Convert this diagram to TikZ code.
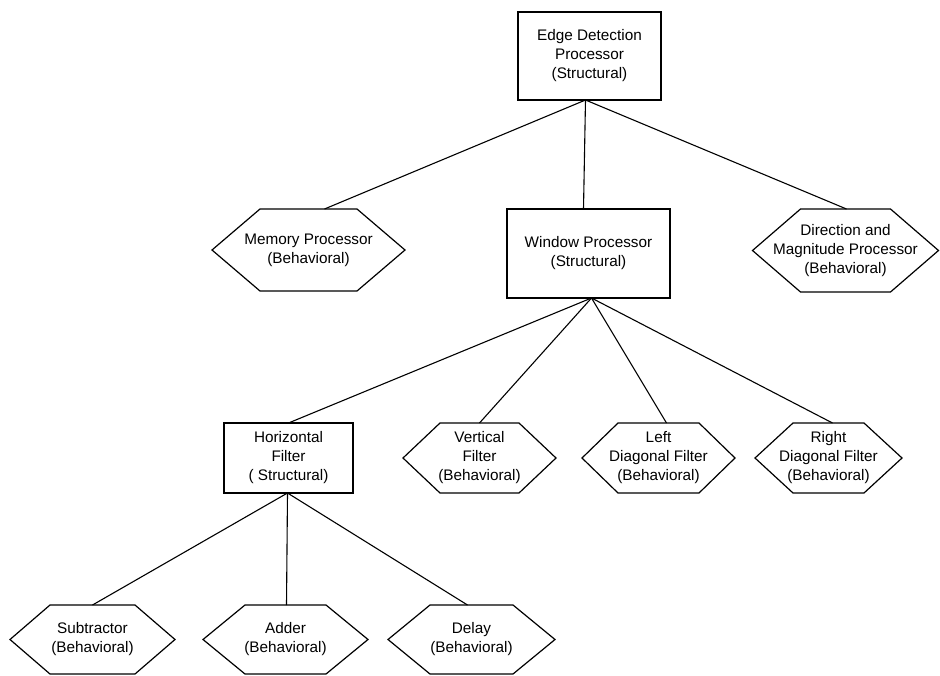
\documentclass[tikz,border=0pt]{standalone}
\usepackage{fontspec}
\setmainfont{Liberation Sans}
\newcommand{\hexoutline}[2]{%
  \draw[outline] (#1.west) -- ([xshift=#2]#1.north west) -- ([xshift=-#2]#1.north east)
    -- (#1.east) -- ([xshift=-#2]#1.south east) -- ([xshift=#2]#1.south west) -- cycle;}
\begin{document}
\begin{tikzpicture}[x=1pt,y=-1pt,
  outline/.style={line width=1.2pt, line join=miter},
  lbl/.style={align=center, inner sep=0pt, outer sep=0pt,
    font=\fontsize{15.3}{19}\selectfont},
  structbox/.style={lbl, draw, line width=1.2pt},
  behavhex/.style={lbl, draw=none},
  link/.style={line width=1.1pt}]
\useasboundingbox (0,0) rectangle (940,675);

% structural blocks
\node[structbox, minimum width=143pt, minimum height=88pt] (ed) at (589.5,56)
  {Edge Detection\\Processor\\(Structural)};
\node[structbox, minimum width=163pt, minimum height=89pt] (win) at (588.5,253.5)
  {Window Processor\\(Structural)};
\node[structbox, minimum width=129pt, minimum height=70pt] (hf) at (288.5,458)
  {Horizontal\\Filter\\( Structural)};

% behavioral blocks
\node[behavhex, minimum width=193pt, minimum height=82pt] (mem) at (308.5,250)
  {Memory Processor\\(Behavioral)};
\node[behavhex, minimum width=186pt, minimum height=83pt] (dir) at (845.5,250.5)
  {Direction and\\Magnitude Processor\\(Behavioral)};
\node[behavhex, minimum width=153pt, minimum height=70pt] (vf) at (479.5,458)
  {Vertical\\Filter\\(Behavioral)};
\node[behavhex, minimum width=153pt, minimum height=70pt] (ldf) at (658.5,458)
  {Left\\Diagonal Filter\\(Behavioral)};
\node[behavhex, minimum width=147pt, minimum height=70pt] (rdf) at (828.5,458)
  {Right\\Diagonal Filter\\(Behavioral)};
\node[behavhex, minimum width=165pt, minimum height=69pt] (sub) at (92.5,639.5)
  {Subtractor\\(Behavioral)};
\node[behavhex, minimum width=165pt, minimum height=69pt] (add) at (285.5,639.5)
  {Adder\\(Behavioral)};
\node[behavhex, minimum width=167pt, minimum height=69pt] (del) at (471.5,639.5)
  {Delay\\(Behavioral)};

\hexoutline{mem}{48}
\hexoutline{dir}{48}
\hexoutline{vf}{37}
\hexoutline{ldf}{36}
\hexoutline{rdf}{38}
\hexoutline{sub}{40}
\hexoutline{add}{42}
\hexoutline{del}{42}

% hierarchy links
\draw[link] ([xshift=-4]ed.south) -- ([xshift=16]mem.north);
\draw[link] ([xshift=-4]ed.south) -- ([xshift=-5]win.north);
\draw[link] ([xshift=-4]ed.south) -- ([xshift=1]dir.north);

\draw[link] ([xshift=3]win.south) -- (hf.north);
\draw[link] ([xshift=3]win.south) -- (vf.north);
\draw[link] ([xshift=3]win.south) -- ([xshift=8]ldf.north);
\draw[link] ([xshift=3]win.south) -- ([xshift=4]rdf.north);

\draw[link] ([xshift=-1]hf.south) -- (sub.north);
\draw[link] ([xshift=-1]hf.south) -- ([xshift=1]add.north);
\draw[link] ([xshift=-1]hf.south) -- ([xshift=-4]del.north);
\end{tikzpicture}
\end{document}
